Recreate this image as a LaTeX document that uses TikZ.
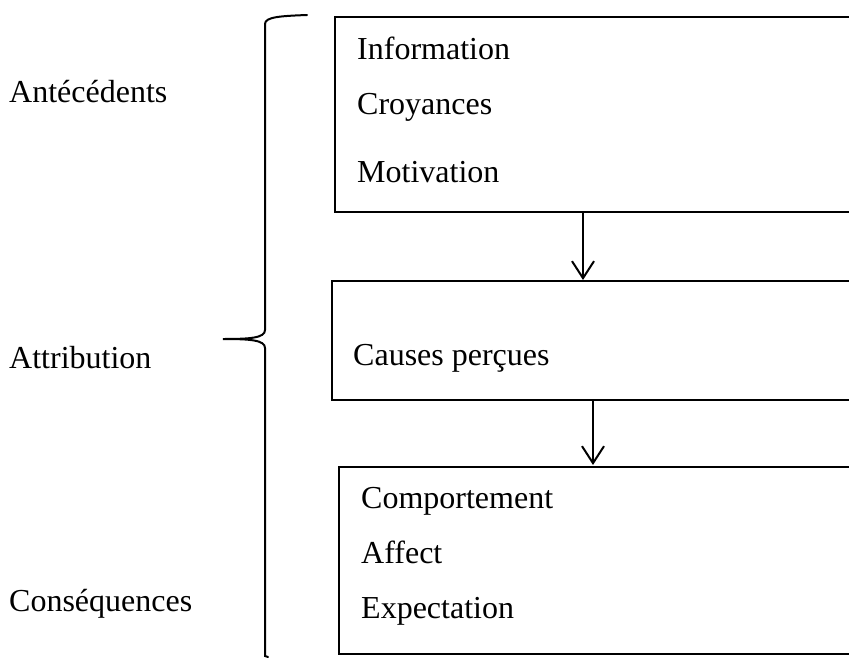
\documentclass[tikz,border=0pt]{standalone}
\usepackage{fontspec}
\setmainfont{Liberation Serif}
\usetikzlibrary{arrows.meta}
\begin{document}
\begin{tikzpicture}[x=1pt,y=-1pt,
  label/.style={anchor=base west,inner sep=0pt,font=\fontsize{32}{38}\selectfont},
  frame/.style={draw=black,line width=2pt},
  flow/.style={draw=black,line width=2pt,-{Straight Barb[length=17pt,width=22pt,line width=2pt]}},
  brace/.style={draw=black,line width=2pt,line cap=round}]
\useasboundingbox (0,0) rectangle (849,659);

% stages on the left
\node[label] (ant) at (9,102) {Antécédents};
\node[label] (att) at (9,368) {Attribution};
\node[label] (con) at (9,611) {Conséquences};

% the three boxes (running off the right edge)
\draw[frame] (860,17) -- (335,17) -- (335,212) -- (860,212);
\draw[frame] (860,281) -- (332,281) -- (332,400) -- (860,400);
\draw[frame] (860,467) -- (339,467) -- (339,654) -- (860,654);

\coordinate (b1s) at (583,212);
\coordinate (b2n) at (583,280);
\coordinate (b2s) at (593,400);
\coordinate (b3n) at (593,465);

\node[label] (inf) at (357,59) {Information};
\node[label] (cro) at (357,114) {Croyances};
\node[label] (mot) at (357,182) {Motivation};
\node[label] (cau) at (353,365) {Causes perçues};
\node[label] (com) at (361,508) {Comportement};
\node[label] (aff) at (361,563) {Affect};
\node[label] (exp) at (361,618) {Expectation};

% arrows between boxes
\draw[flow] (b1s) -- (b2n);
\draw[flow] (b2s) -- (b3n);

% large brace
\draw[brace] (307,15) .. controls (280,16) and (265,17) .. (265,24)
  -- (265,330) .. controls (265,338) and (250,339) .. (223,339)
  .. controls (250,339) and (265,340) .. (265,348)
  -- (265,656) -- (268,657);
\end{tikzpicture}
\end{document}
